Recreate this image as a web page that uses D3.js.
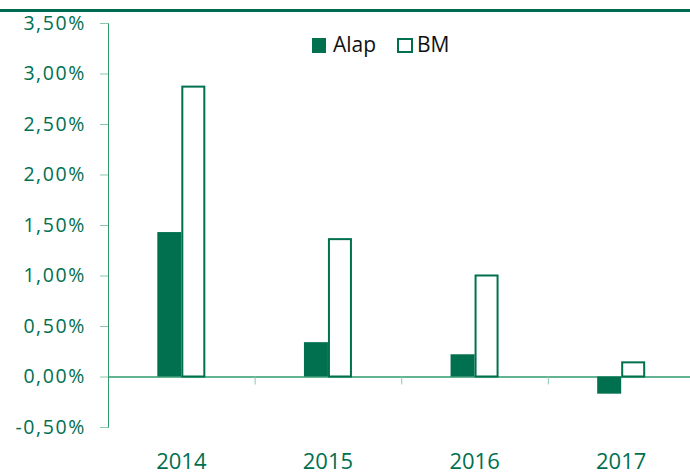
<!DOCTYPE html>
<html><head><meta charset="utf-8">
<script src="https://cdn.jsdelivr.net/npm/d3@7"></script>
<style>body{margin:0;background:#fff}svg{display:block}</style>
</head><body>
<script>
const categories = ["2014","2015","2016","2017"];
const alap = [1.43, 0.34, 0.22, -0.17];
const bm = [2.88, 1.37, 1.01, 0.15];
const yTicks = [-0.5,0,0.5,1,1.5,2,2.5,3,3.5];
const seriesNames = ["Alap","BM"];

const W=690,H=474, green="#00704F", axisGreen="#2E9A6C";
const svg=d3.select("body").append("svg").attr("width",W).attr("height",H);
const font="'Open Sans', 'Noto Sans', sans-serif";

svg.append("rect").attr("x",0).attr("y",9).attr("width",W).attr("height",3).attr("fill","#006A4E");

const y=d3.scaleLinear().domain([-0.5,3.5]).range([427,23]);
const x=d3.scaleBand().domain(categories).range([108,694.5]);
const inner=d3.scaleBand().domain(seriesNames).range([0,48]);
const off=(x.bandwidth()-48)/2;

// y axis
const yAx=svg.append("g").attr("transform","translate(108,0)")
 .call(d3.axisLeft(y).tickValues(yTicks).tickSize(8).tickPadding(14)
 .tickFormat(d=>d.toFixed(2).replace(".",",")+"%"));
yAx.select(".domain").attr("stroke",axisGreen).attr("d","M-8,23.5H0.5V427.5H-8");
yAx.selectAll(".tick line").attr("stroke","#8cc7ab");
yAx.selectAll("text").attr("fill",green).style("font-family",font).style("font-size","19.5px")
 .style("letter-spacing","1.6px");

// x axis at zero
const xAx=svg.append("g").attr("transform",`translate(0,${y(0)})`)
 .call(d3.axisBottom(x).tickSize(0).tickFormat(""));
xAx.select(".domain").attr("stroke",axisGreen).attr("stroke-width",1.5);
xAx.selectAll(".tick").remove();
categories.forEach((c,i)=>{
  if(i>0) xAx.append("line").attr("x1",x(c)+0.5).attr("x2",x(c)+0.5).attr("y1",0).attr("y2",8).attr("stroke","#8cc7ab");
});
svg.append("g").selectAll("text").data(categories).join("text")
 .attr("x",d=>x(d)+x.bandwidth()/2).attr("y",469).attr("text-anchor","middle")
 .attr("fill",green).style("font-family",font).style("font-size","22px").text(d=>d);

// bars
const g=svg.append("g");
g.selectAll(".a").data(categories).join("rect")
 .attr("x",(d)=>x(d)+off+inner("Alap"))
 .attr("y",(d,i)=>y(Math.max(0,alap[i])))
 .attr("width",inner.bandwidth())
 .attr("height",(d,i)=>Math.abs(y(alap[i])-y(0)))
 .attr("fill",green);
g.selectAll(".b").data(categories).join("rect")
 .attr("x",(d)=>x(d)+off+inner("BM")+1)
 .attr("y",(d,i)=>y(Math.max(0,bm[i]))+1)
 .attr("width",inner.bandwidth()-2)
 .attr("height",(d,i)=>Math.abs(y(bm[i])-y(0))-1)
 .attr("fill","#fff").attr("stroke",green).attr("stroke-width",2);

// legend
const lg=svg.append("g");
lg.append("rect").attr("x",312).attr("y",38).attr("width",14).attr("height",15).attr("fill",green);
lg.append("text").attr("x",333).attr("y",52).text(seriesNames[0]).style("font-family",font).style("font-size","21px").attr("fill","#111");
lg.append("rect").attr("x",398).attr("y",39).attr("width",14).attr("height",13).attr("fill","#fff").attr("stroke",green).attr("stroke-width",2);
lg.append("text").attr("x",417).attr("y",52).text(seriesNames[1]).style("font-family",font).style("font-size","21px").attr("fill","#111");
</script>
</body></html>
